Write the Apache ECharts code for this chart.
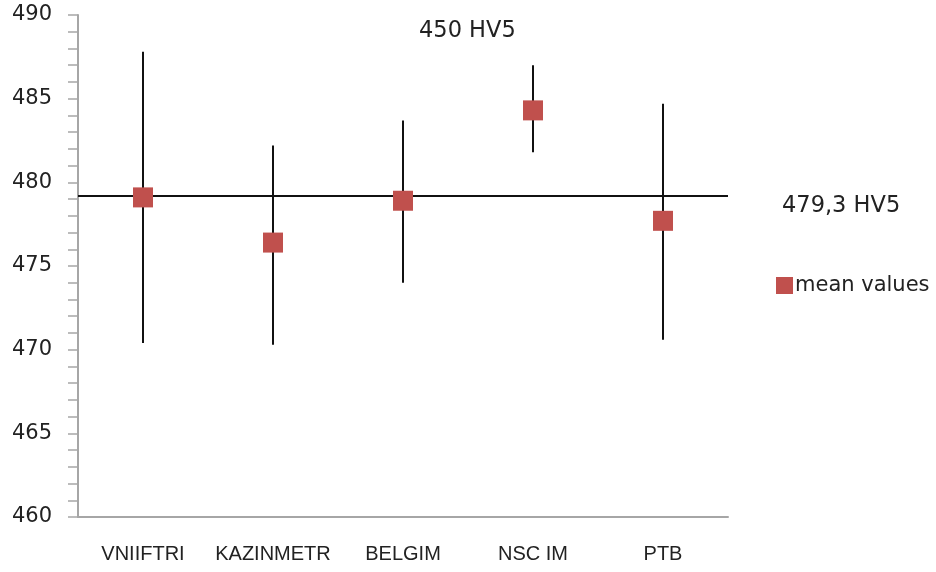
<!DOCTYPE html>
<html><head><meta charset="utf-8">
<script src="https://cdn.jsdelivr.net/npm/echarts@6/dist/echarts.min.js"></script>
<style>html,body{margin:0;padding:0;background:#fff}#c{width:936px;height:572px}</style>
</head><body><div id="c"></div>
<script>
const categories = ['VNIIFTRI', 'KAZINMETR', 'BELGIM', 'NSC IM', 'PTB'];
const meanValues = [479.1, 476.4, 478.9, 484.3, 477.7];
const lowerValues = [470.4, 470.3, 474.0, 481.8, 470.6];
const upperValues = [487.8, 482.2, 483.7, 487.0, 484.7];
const referenceValue = 479.2;
const referenceLabel = '479,3 HV5';
const titleText = '450 HV5';
const seriesName = 'mean values';
const yTicks = [460, 465, 470, 475, 480, 485, 490];

const chart = echarts.init(document.getElementById('c'), null, {renderer: 'canvas'});
const font = 'DejaVu Sans';
chart.setOption({
  animation: false,
  backgroundColor: '#fff',
  title: {text: titleText, left: 419, top: 20, padding: 0, textStyle: {fontFamily: font, fontSize: 22.5, fontWeight: 'normal', color: '#222'}},
  legend: {
    data: [{name: seriesName, icon: 'rect'}],
    left: 776, top: 275, padding: 0, itemWidth: 17, itemHeight: 17, itemGap: 4,
    textStyle: {fontFamily: font, fontSize: 21, color: '#222', padding: [0,0,0,-3]}
  },
  graphic: [{type: 'text', left: 782, top: 195, style: {text: referenceLabel, font: '22.5px "DejaVu Sans"', fill: '#222'}}],
  grid: {left: 78, right: 208, top: 15, bottom: 55},
  xAxis: {
    type: 'category', data: categories, boundaryGap: true,
    axisLine: {lineStyle: {color: '#a6a6a6', width: 2}},
    axisTick: {show: false},
    axisLabel: {interval: 0, hideOverlap: false, fontFamily: 'Liberation Sans', fontSize: 20, color: '#222', margin: 27}
  },
  yAxis: {
    type: 'value', min: yTicks[0], max: yTicks[yTicks.length - 1], interval: 5,
    axisLine: {show: true, lineStyle: {color: '#a6a6a6', width: 2}},
    axisTick: {show: true, length: 10, lineStyle: {color: '#a6a6a6', width: 1.5}},
    minorTick: {show: true, splitNumber: 5, length: 10, lineStyle: {color: '#a6a6a6', width: 1.5}},
    splitLine: {show: false},
    axisLabel: {fontFamily: font, fontSize: 21, color: '#222', margin: 26}
  },
  series: [
    {
      type: 'custom', name: 'errors', silent: true, z: 2,
      data: categories.map((c, i) => [i, lowerValues[i], upperValues[i]]),
      renderItem: function (params, api) {
        const lo = api.coord([api.value(0), api.value(1)]);
        const hi = api.coord([api.value(0), api.value(2)]);
        return {type: 'line', shape: {x1: lo[0], y1: lo[1], x2: hi[0], y2: hi[1]}, style: {stroke: '#111', lineWidth: 2}};
      }
    },
    {
      type: 'scatter', name: seriesName, symbol: 'rect', symbolSize: 20, z: 5,
      itemStyle: {color: '#c0504d', opacity: 1},
      data: meanValues,
      markLine: {
        silent: true, symbol: 'none', label: {show: false},
        lineStyle: {color: '#111', width: 2, type: 'solid'},
        data: [{yAxis: referenceValue}]
      }
    }
  ]
});
</script></body></html>
